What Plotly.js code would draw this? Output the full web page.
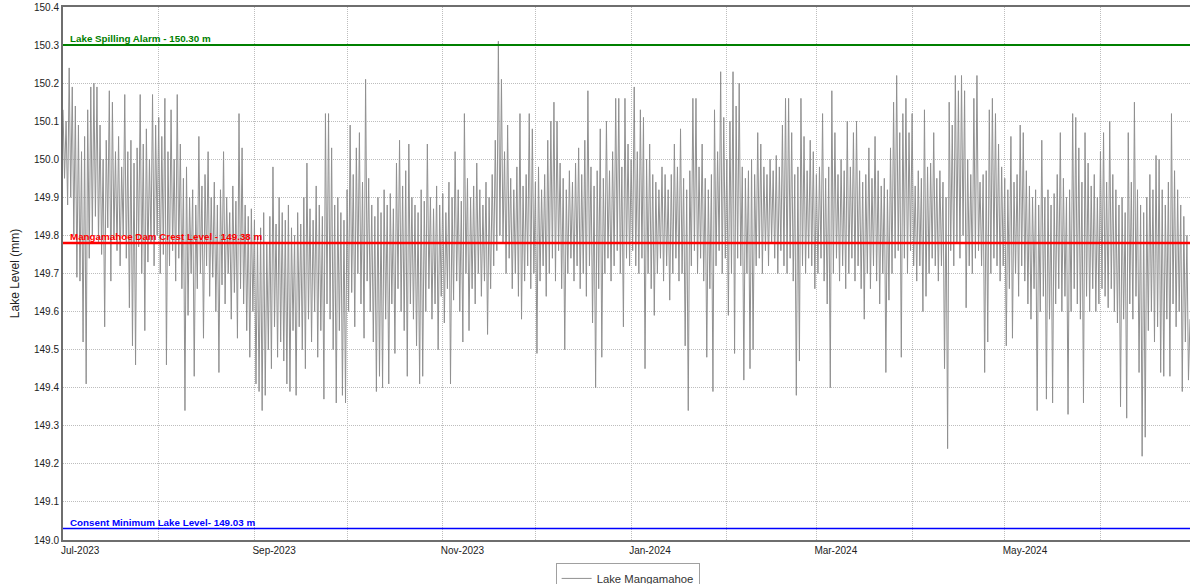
<!DOCTYPE html>
<html>
<head>
<meta charset="utf-8">
<script src="https://cdn.plot.ly/plotly-3.0.1.min.js"></script>
<style>
html,body{margin:0;padding:0;background:#fff;}
#chart{width:1190px;height:584px;}
</style>
</head>
<body>
<div id="chart"></div>
<script>
// Series: Lake Mangamahoe level, two readings per day starting 1 Jul 2023
const seriesName = "Lake Mangamahoe";
const seriesStart = "2023-07-01";
const stepHours = 12;
const levels = [
150.13,149.95,150.10,149.88,150.24,149.90,150.19,149.80,150.14,149.69,150.09,149.68,150.02,149.52,150.06,149.41,150.13,149.74,150.19,149.80,
150.20,149.85,150.19,149.78,150.09,149.75,150.00,149.56,150.05,149.82,150.18,149.68,150.15,149.79,150.02,149.76,150.06,149.72,149.98,149.80,
150.17,149.74,150.02,149.61,150.05,149.51,149.99,149.46,150.03,149.77,150.17,149.70,150.04,149.55,150.08,149.73,150.00,149.78,150.17,149.72,
150.09,149.80,150.11,149.70,150.06,149.75,150.16,149.46,150.02,149.72,150.13,149.76,150.00,149.68,150.17,149.74,150.04,149.66,149.95,149.34,
149.98,149.59,149.90,149.70,149.92,149.43,149.88,149.66,150.06,149.70,149.93,149.53,149.96,149.72,150.02,149.64,149.90,149.69,149.94,149.60,
149.88,149.44,149.92,149.67,150.02,149.62,149.90,149.70,149.86,149.58,149.93,149.65,149.89,149.53,150.12,149.66,150.03,149.62,149.88,149.55,
149.85,149.48,149.87,149.60,149.84,149.41,149.80,149.39,149.82,149.34,149.86,149.38,149.78,149.50,149.85,149.45,149.98,149.56,149.83,149.48,
149.90,149.52,149.86,149.47,149.84,149.41,149.88,149.39,149.82,149.55,149.80,149.38,149.86,149.56,149.83,149.50,149.90,149.45,149.99,149.58,
149.87,149.52,149.84,149.60,149.93,149.48,149.88,149.55,149.85,149.37,150.12,149.62,150.12,149.58,150.03,149.50,149.88,149.36,149.90,149.55,
149.86,149.38,149.84,149.36,149.92,149.60,150.09,149.65,149.96,149.56,150.03,149.70,150.07,149.62,149.94,149.53,150.21,149.68,149.95,149.60,
149.88,149.52,149.85,149.39,149.90,149.43,149.86,149.40,149.92,149.58,149.88,149.41,149.91,149.62,149.87,149.49,149.99,149.66,150.05,149.60,
149.93,149.55,149.97,149.43,150.04,149.62,149.90,149.58,149.88,149.51,149.86,149.41,149.92,149.43,149.89,149.60,150.04,149.66,149.90,149.58,
149.87,149.62,149.93,149.50,149.88,149.64,149.91,149.57,149.86,149.66,149.94,149.41,149.90,149.63,150.02,149.68,149.92,149.60,149.89,149.52,
150.12,149.70,149.95,149.55,149.90,149.66,149.93,149.62,149.99,149.70,149.92,149.64,149.88,149.68,149.94,149.54,149.90,149.66,149.96,149.72,
150.05,149.76,150.31,149.80,150.21,149.78,150.02,149.70,150.09,149.74,149.95,149.66,149.92,149.70,149.98,149.64,150.12,149.58,149.93,149.68,
149.96,149.72,150.12,149.66,150.08,149.70,149.94,149.49,149.98,149.68,149.92,149.72,149.96,149.64,150.05,149.70,150.10,149.74,150.15,149.68,
150.10,149.76,149.99,149.66,149.95,149.50,149.92,149.70,149.97,149.74,149.94,149.68,149.99,149.72,150.03,149.66,149.96,149.70,150.05,149.64,
150.18,149.72,149.98,149.57,149.93,149.40,149.97,149.66,150.08,149.48,149.95,149.70,150.10,149.74,149.97,149.68,150.02,149.72,150.16,149.76,
150.16,149.70,149.98,149.56,150.16,149.74,150.04,149.72,150.00,149.76,150.19,149.72,150.02,149.70,150.13,149.74,150.11,149.45,150.00,149.70,
150.04,149.66,149.96,149.59,149.94,149.70,149.92,149.74,149.98,149.68,149.96,149.72,149.92,149.63,149.96,149.70,150.04,149.74,149.98,149.68,
150.08,149.70,149.95,149.51,149.92,149.34,149.97,149.72,150.16,149.76,150.16,149.70,149.98,149.74,150.04,149.68,149.95,149.48,149.92,149.66,
149.96,149.39,150.13,149.72,150.02,149.76,150.23,149.70,150.11,149.74,150.00,149.59,150.10,149.70,150.23,149.49,150.14,149.74,150.20,149.72,
149.98,149.42,149.95,149.70,149.97,149.45,150.00,149.50,149.96,149.72,150.07,149.74,150.04,149.70,149.98,149.76,149.96,149.72,150.00,149.78,
149.97,149.74,150.01,149.70,149.98,149.76,150.09,149.72,150.16,149.70,150.16,149.74,150.07,149.68,149.96,149.38,149.98,149.47,150.16,149.72,
150.06,149.70,149.97,149.74,150.05,149.72,150.02,149.66,149.96,149.70,149.98,149.74,150.12,149.68,149.95,149.62,149.98,149.40,150.18,149.70,
150.07,149.74,149.96,149.68,150.00,149.72,149.97,149.66,150.10,149.70,149.98,149.74,150.07,149.68,150.10,149.72,149.97,149.66,149.94,149.58,
149.96,149.70,150.03,149.66,149.95,149.72,150.06,149.68,149.97,149.62,149.93,149.70,149.95,149.44,149.92,149.63,150.03,149.70,150.15,149.74,
150.22,149.76,150.07,149.48,150.12,149.74,150.16,149.70,150.07,149.76,150.12,149.72,149.93,149.68,149.97,149.72,149.95,149.60,150.13,149.64,
149.98,149.70,149.99,149.74,150.07,149.72,149.95,149.68,149.97,149.72,149.94,149.45,149.90,149.24,150.15,149.76,150.09,149.72,150.22,149.78,
150.18,149.74,150.22,149.80,150.18,149.61,150.00,149.72,149.96,149.70,150.16,149.74,150.22,149.76,149.94,149.72,149.96,149.44,149.97,149.52,
150.13,149.70,150.16,149.74,150.12,149.72,150.04,149.68,149.98,149.72,149.95,149.51,149.92,149.66,150.06,149.53,149.94,149.70,149.96,149.64,
150.09,149.72,150.07,149.68,149.97,149.62,149.93,149.58,149.90,149.66,149.92,149.34,149.88,149.60,150.05,149.64,149.90,149.37,149.92,149.58,
149.88,149.36,149.91,149.62,149.96,149.66,150.07,149.60,149.95,149.64,149.90,149.33,149.92,149.60,150.12,149.66,150.11,149.62,150.03,149.58,
149.94,149.36,150.07,149.64,149.99,149.60,149.93,149.66,149.96,149.60,149.90,149.62,150.02,149.66,150.07,149.64,149.94,149.61,150.10,149.66,
149.96,149.60,149.92,149.57,149.88,149.35,149.90,149.58,149.86,149.32,150.07,149.62,149.94,149.58,150.15,149.64,149.92,149.44,149.88,149.22,
149.86,149.27,149.90,149.55,149.96,149.60,149.92,149.52,150.01,149.56,150.00,149.44,149.92,149.43,149.88,149.58,149.94,149.43,150.12,149.62,
149.97,149.56,149.92,149.60,149.88,149.39,149.85,149.52,149.80,149.42,149.58
];

// Reference levels
const refLevels = [150.30, 149.78, 149.03];
const refLabels = ["Lake Spilling Alarm - 150.30 m", "Mangamahoe Dam Crest Level - 149.38 m", "Consent Minimum Lake Level- 149.03 m"];
const refColors = ["#008000", "#ff0000", "#0000ff"];
const refWidths = [2, 2.5, 1.5];

// Axis ticks
const monthTicks = ["2023-07-01","2023-08-01","2023-09-01","2023-10-01","2023-11-01","2023-12-01","2024-01-01","2024-02-01","2024-03-01","2024-04-01","2024-05-01","2024-06-01"];
const monthLabels = ["Jul-2023","","Sep-2023","","Nov-2023","","Jan-2024","","Mar-2024","","May-2024",""];
const yTicks = [149.0,149.1,149.2,149.3,149.4,149.5,149.6,149.7,149.8,149.9,150.0,150.1,150.2,150.3,150.4];

const t0 = new Date(seriesStart + "T00:00:00Z").getTime();
const xs = levels.map((_, i) => new Date(t0 + i * stepHours * 3600000).toISOString().slice(0, 19).replace("T", " "));

const font = "Liberation Sans, Arial, sans-serif";

const trace = {
  type: "scatter", mode: "lines", name: seriesName,
  x: xs, y: levels,
  line: {color: "#909090", width: 1}
};

const shapes = refLevels.map((v, i) => ({
  type: "line", xref: "paper", x0: 0, x1: 1, yref: "y", y0: v, y1: v,
  line: {color: refColors[i], width: refWidths[i]}, layer: "above"
}));
const annotations = refLevels.map((v, i) => ({
  xref: "paper", x: 0.004, xanchor: "left", yref: "y", y: v, yanchor: "bottom",
  text: refLabels[i], showarrow: false, yshift: -1,
  font: {family: font, size: 9.8, color: refColors[i], weight: 700}
}));

const layout = {
  width: 1190, height: 584,
  margin: {l: 63, r: 0, t: 7, b: 44, autoexpand: false},
  paper_bgcolor: "#ffffff", plot_bgcolor: "#ffffff",
  font: {family: font, size: 10, color: "#333"},
  showlegend: true,
  legend: {orientation: "h", x: 0.501, xanchor: "center", y: -0.043, yanchor: "top",
    bordercolor: "#a0a0a0", borderwidth: 1, font: {family: font, size: 11.3, color: "#333"}},
  xaxis: {
    type: "date", range: ["2023-07-01", "2024-06-30"],
    tickvals: monthTicks, ticktext: monthLabels,
    ticklabelposition: "outside right", ticklabelshift: -3,
    showgrid: true, gridcolor: "#bdbdbd", griddash: "1px,1px", gridwidth: 1,
    showline: true, linecolor: "#6e6e6e", linewidth: 2, mirror: true,
    ticks: "", zeroline: false,
    tickfont: {family: font, size: 10, color: "#222"}
  },
  yaxis: {
    range: [149.0, 150.4], tickvals: yTicks, tickformat: ".1f",
    showgrid: true, gridcolor: "#bdbdbd", griddash: "1px,1px", gridwidth: 1,
    showline: true, linecolor: "#6e6e6e", linewidth: 2,
    ticks: "", zeroline: false,
    tickfont: {family: font, size: 10, color: "#222"},
    title: {text: "Lake Level (mm)", font: {family: font, size: 12, color: "#222"}, standoff: 12}
  },
  shapes: shapes,
  annotations: annotations
};

Plotly.newPlot("chart", [trace], layout, {displayModeBar: false, staticPlot: true});
</script>
</body>
</html>
